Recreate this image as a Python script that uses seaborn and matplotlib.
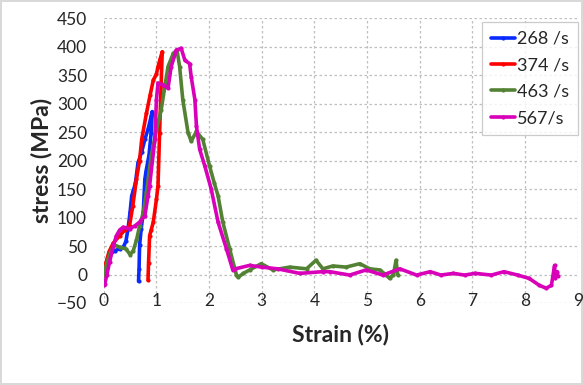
import pandas as pd
import matplotlib.pyplot as plt
import seaborn as sns

# strain (%) and stress (MPa)
strain_268 = [0, 0.05, 0.12, 0.21, 0.3, 0.37, 0.42, 0.46, 0.5, 0.53, 0.56, 0.6, 0.65, 0.72, 0.78, 0.84, 0.87, 0.9, 0.92,
              0.9, 0.86, 0.8, 0.78, 0.75, 0.71, 0.68, 0.67, 0.66]
stress_268 = [0, 18, 35, 42, 45, 48, 58, 80, 110, 138, 147, 160, 196, 215, 237, 255, 266, 278, 286,
              249, 210, 180, 167, 109, 80, 51, 10, -12]

strain_374 = [0, 0.04, 0.1, 0.18, 0.3, 0.4, 0.49, 0.55, 0.62, 0.68, 0.72, 0.81, 0.88, 0.94, 1.0, 1.03, 1.07, 1.11,
              1.09, 1.06, 1.03, 1.0, 0.94, 0.9, 0.87, 0.85, 0.84]
stress_374 = [0, 20, 40, 55, 68, 78, 86, 120, 167, 200, 237, 283, 315, 341, 352, 365, 378, 391,
              336, 249, 156, 132, 92, 78, 68, 20, -10]

strain_463 = [0, 0.06, 0.12, 0.2, 0.3, 0.42, 0.5, 0.56, 0.62, 0.68, 0.75, 0.81, 0.9, 1.0, 1.09, 1.16, 1.22, 1.32, 1.39,
              1.44, 1.5, 1.6, 1.66, 1.76, 1.88, 2.01, 2.1, 2.17, 2.26, 2.39, 2.52, 2.55, 2.65, 2.77, 2.99, 3.21,
              3.53, 3.85, 4.03, 4.16, 4.35, 4.6, 4.86, 5.05, 5.24, 5.35, 5.43, 5.5, 5.55, 5.58]
stress_463 = [0, 20, 38, 52, 48, 45, 35, 42, 60, 85, 109, 144, 208, 254, 289, 330, 365, 388, 394,
              365, 307, 249, 234, 251, 237, 190, 160, 138, 92, 45, -1, -5, 2, 8, 19, 8,
              13, 10, 25, 10, 15, 13, 19, 10, 8, 0, -7, 0, 25, 0]

strain_567 = [0, 0.02, 0.06, 0.11, 0.18, 0.24, 0.3, 0.37, 0.49, 0.6, 0.68, 0.78, 0.84, 0.87, 0.97, 1.0, 1.03, 1.12,
              1.22, 1.28, 1.38, 1.47, 1.54, 1.63, 1.66, 1.73, 1.76, 1.82, 1.92, 2.04, 2.17, 2.33, 2.45, 2.5, 2.77,
              3.0, 3.3, 3.72, 4.16, 4.29, 4.67, 4.98, 5.3, 5.62, 5.94, 6.2, 6.4, 6.64, 6.85, 7.05, 7.36, 7.6,
              7.86, 8.08, 8.27, 8.4, 8.5, 8.56, 8.57, 8.61, 8.62]
stress_567 = [-18, -16, 0, 22, 50, 68, 78, 83, 80, 86, 92, 103, 138, 156, 237, 307, 336, 333,
              327, 365, 394, 397, 376, 370, 347, 307, 260, 220, 190, 150, 92, 45, 8, 10, 16,
              13, 10, 2, 5, 5, -1, 8, -1, 10, -1, 5, -1, 2, -1, 2, -1, 5,
              -1, -7, -19, -24, -19, 16, -7, 5, -3]

labels = ['268 /s', '374 /s', '463 /s', '567/s']
colors = ['#0a2bff', '#ff0000', '#548235', '#d800b8']

frames = []
for lab, xs, ys in zip(labels,
                       [strain_268, strain_374, strain_463, strain_567],
                       [stress_268, stress_374, stress_463, stress_567]):
    frames.append(pd.DataFrame({'strain': xs, 'stress': ys, 'rate': lab}))
df = pd.concat(frames, ignore_index=True)

sns.set_style('white')
plt.rcParams['font.family'] = ['Lato', 'DejaVu Sans']

fig = plt.figure(figsize=(5.83, 3.85), dpi=100)
fig.patch.set_edgecolor('#d9d9d9')
fig.patch.set_linewidth(1.5)
ax = fig.add_axes([0.178, 0.213, 0.813, 0.74])

sns.lineplot(data=df, x='strain', y='stress', hue='rate', palette=dict(zip(labels, colors)),
             sort=False, estimator=None, linewidth=2.6, marker='o', markersize=3,
             markeredgewidth=0, ax=ax)

ax.set_xlim(0, 9)
ax.set_ylim(-50, 450)
ax.set_xticks(range(0, 10))
ax.set_yticks(range(-50, 451, 50))
ax.grid(True, linestyle=(0, (2, 2)), color='#bfbfbf', linewidth=0.9)
for s in ax.spines.values():
    s.set_visible(False)
ax.tick_params(axis='y', labelsize=12.5, length=0, pad=12)
# x tick labels sit on the bottom gridline, as in the original
ax.tick_params(axis='x', labelsize=12.5, length=0, pad=-7)

ax.set_xlabel('Strain (%)', fontsize=16.5, fontweight='bold')
ax.set_ylabel('stress (MPa)', fontsize=16.5, fontweight='bold')
ax.xaxis.label.set_va('center')
ax.yaxis.label.set_va('center')
ax.xaxis.set_label_coords(0.5, -0.112)
ax.yaxis.set_label_coords(-0.131, 0.5)

leg = ax.legend(loc='upper right', bbox_to_anchor=(1.0, 0.987), borderaxespad=0,
                fontsize=13, frameon=True, fancybox=False, edgecolor='#bfbfbf',
                handlelength=1.3, handletextpad=0.1, borderpad=0.5, labelspacing=0.58,
                title=None)
leg.get_frame().set_linewidth(0.9)

fig.savefig('out.png', dpi=100)
